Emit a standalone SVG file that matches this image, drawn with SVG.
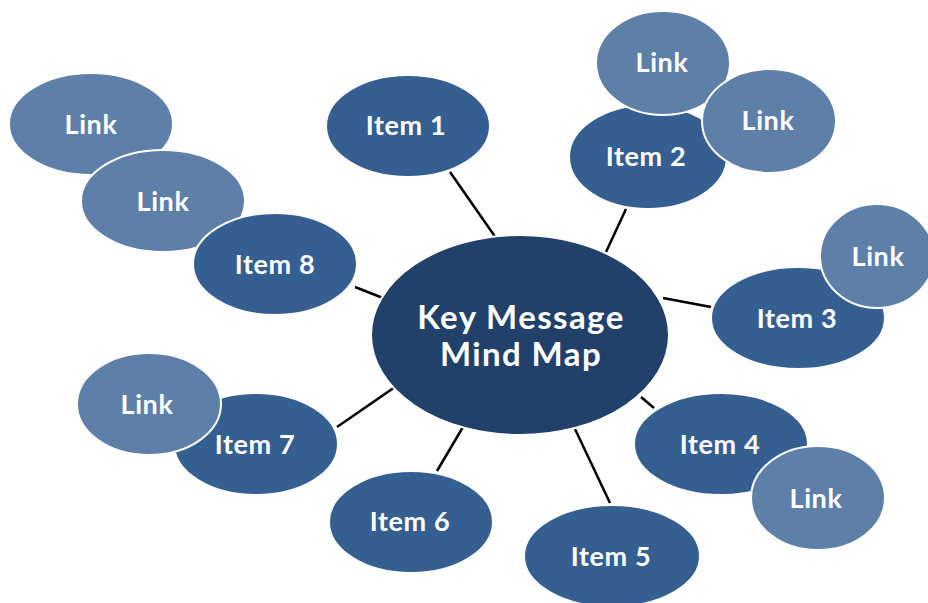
<svg xmlns="http://www.w3.org/2000/svg" width="928" height="603" viewBox="0 0 928 603">
<style>
.c{fill:#21416b;stroke:#fff;stroke-width:2}
.i{fill:#365f91;stroke:#fff;stroke-width:2}
.l{fill:#5d7fa8;stroke:#fff;stroke-width:2}
text{font-family:Lato,"Open Sans",sans-serif;font-weight:bold;fill:#fff;text-anchor:middle}
.t{font-size:27px;letter-spacing:0.6px}
.ct{font-size:33px;letter-spacing:1.4px}
#connectors line{stroke:#000;stroke-width:2.5}
</style>
<rect width="928" height="603" fill="#fff"/>
<g id="connectors">
<line x1="450" y1="172" x2="496" y2="238"/>
<line x1="626" y1="209" x2="606" y2="252"/>
<line x1="663" y1="298" x2="711" y2="307"/>
<line x1="641" y1="397" x2="654" y2="408"/>
<line x1="575" y1="429" x2="610" y2="503"/>
<line x1="463" y1="427" x2="437" y2="471"/>
<line x1="395" y1="387" x2="337" y2="427"/>
<line x1="355" y1="287" x2="383" y2="298"/>
</g>
<g id="center"><ellipse class="c" cx="520" cy="335" rx="149" ry="100"/><text class="ct" x="521" y="329">Key Message</text><text class="ct" x="521" y="366">Mind Map</text></g>
<g id="item1"><ellipse class="i" cx="408" cy="126" rx="82" ry="51"/><text class="t" x="406" y="135">Item 1</text></g>
<g id="item2"><ellipse class="i" cx="648" cy="157" rx="79" ry="52"/><text class="t" x="646" y="166">Item 2</text></g>
<g id="link2a"><ellipse class="l" cx="663" cy="63" rx="67" ry="52"/><text class="t" x="662" y="72">Link</text></g>
<g id="link2b"><ellipse class="l" cx="769" cy="121" rx="67" ry="52"/><text class="t" x="768" y="130">Link</text></g>
<g id="item3"><ellipse class="i" cx="798" cy="318" rx="87" ry="51"/><text class="t" x="797" y="328">Item 3</text></g>
<g id="link3"><ellipse class="l" cx="877" cy="256" rx="57" ry="52"/><text class="t" x="878" y="266">Link</text></g>
<g id="item4"><ellipse class="i" cx="721" cy="444" rx="87" ry="51"/><text class="t" x="720" y="454">Item 4</text></g>
<g id="link4"><ellipse class="l" cx="818" cy="498" rx="67" ry="52"/><text class="t" x="816" y="508">Link</text></g>
<g id="item5"><ellipse class="i" cx="612" cy="556" rx="88" ry="51"/><text class="t" x="611" y="566">Item 5</text></g>
<g id="item6"><ellipse class="i" cx="411" cy="522" rx="82" ry="51"/><text class="t" x="410" y="531">Item 6</text></g>
<g id="item7"><ellipse class="i" cx="256" cy="444" rx="82" ry="51"/><text class="t" x="255" y="454">Item 7</text></g>
<g id="link7"><ellipse class="l" cx="149" cy="404" rx="72" ry="51"/><text class="t" x="147" y="414">Link</text></g>
<g id="link8a"><ellipse class="l" cx="91" cy="124" rx="82" ry="51"/><text class="t" x="91" y="134">Link</text></g>
<g id="link8b"><ellipse class="l" cx="163" cy="201" rx="82" ry="51"/><text class="t" x="163" y="211">Link</text></g>
<g id="item8"><ellipse class="i" cx="275" cy="264" rx="82" ry="51"/><text class="t" x="275" y="274">Item 8</text></g>
</svg>
